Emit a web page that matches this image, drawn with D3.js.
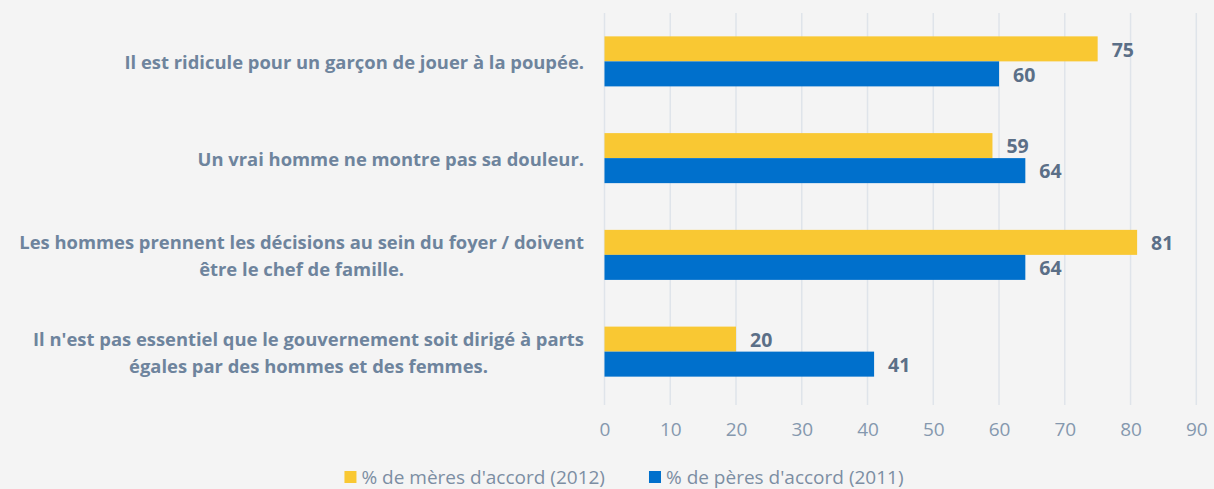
<!DOCTYPE html>
<html>
<head>
<meta charset="utf-8">
<script src="https://cdn.jsdelivr.net/npm/d3@7"></script>
<style>
  body { margin: 0; background: #f4f4f4; }
  svg { display: block; }
</style>
</head>
<body>
<svg id="chart" width="1214" height="489"></svg>
<script>
// données
var categories = [
    ["Il est ridicule pour un garçon de jouer à la poupée."],
    ["Un vrai homme ne montre pas sa douleur."],
    ["Les hommes prennent les décisions au sein du foyer / doivent", "être le chef de famille."],
    ["Il n'est pas essentiel que le gouvernement soit dirigé à parts", "égales par des hommes et des femmes."]
]
var meres = [75, 59, 81, 20]
var peres = [60, 64, 64, 41]
var seriesNames = ["% de mères d'accord (2012)", "% de pères d'accord (2011)"]
var seriesColors = ["#f9c833", "#0070cc"]
var xTicks = [0, 10, 20, 30, 40, 50, 60, 70, 80, 90]

var width = 1214
var height = 489
var margin = { top: 13, right: 18, bottom: 89, left: 604.5 }
var font = "'Open Sans', sans-serif"

var svg = d3.select("#chart")
svg.append("rect").attr("width", width).attr("height", height).attr("fill", "#f4f4f4")

// échelles
var xScale = d3.scaleLinear()
    .domain([0, 90])
    .range([margin.left, 1196.3])

var yScale = d3.scaleBand()
    .domain(d3.range(categories.length))
    .range([margin.top, 400])
    .paddingInner(0.483)
    .paddingOuter(0.2415)

var subScale = d3.scaleBand()
    .domain([0, 1])
    .range([0, yScale.bandwidth()])

// grille verticale
svg.append("g")
    .selectAll("line")
    .data(xTicks)
    .enter()
    .append("line")
    .attr("x1", function (d) { return xScale(d) })
    .attr("x2", function (d) { return xScale(d) })
    .attr("y1", margin.top)
    .attr("y2", 405)
    .attr("stroke", "#dfe4ea")
    .attr("stroke-width", 1.5)

// axe x
var xAxis = d3.axisBottom(xScale).tickValues(xTicks).tickSize(0).tickPadding(0)
var gx = svg.append("g")
    .attr("transform", "translate(0,422)")
    .call(xAxis)
gx.select(".domain").remove()
gx.selectAll("text")
    .attr("font-family", font)
    .attr("font-size", 19)
    .attr("fill", "#8598ae")

// barres
var rows = categories.map(function (c, i) { return { i: i, values: [meres[i], peres[i]] } })
var groups = svg.append("g").selectAll("g")
    .data(rows)
    .enter()
    .append("g")
    .attr("transform", function (d) { return "translate(0," + yScale(d.i) + ")" })

groups.selectAll("rect")
    .data(function (d) { return d.values })
    .enter()
    .append("rect")
    .attr("x", xScale(0))
    .attr("y", function (d, j) { return subScale(j) })
    .attr("width", function (d) { return xScale(d) - xScale(0) })
    .attr("height", subScale.bandwidth())
    .attr("fill", function (d, j) { return seriesColors[j] })

// étiquettes de valeurs
groups.selectAll("text")
    .data(function (d) { return d.values })
    .enter()
    .append("text")
    .attr("x", function (d) { return xScale(d) + 14 })
    .attr("y", function (d, j) { return subScale(j) + subScale.bandwidth() / 2 + 1 })
    .attr("dy", "0.35em")
    .attr("font-family", font)
    .attr("font-weight", "bold")
    .attr("font-size", 19.5)
    .attr("fill", "#5b6f87")
    .text(function (d) { return d })

// libellés des catégories
var labelRight = 584
categories.forEach(function (lines, i) {
    var cy = yScale(i) + yScale.bandwidth() / 2
    var g = svg.append("g")
    var texts = lines.map(function (line, k) {
        return g.append("text")
            .attr("y", cy + 1 + (k - (lines.length - 1) / 2) * 27)
            .attr("dy", "0.35em")
            .attr("text-anchor", "middle")
            .attr("font-family", font)
            .attr("font-weight", "bold")
            .attr("font-size", 18.4)
            .attr("fill", "#6e849d")
            .text(line)
    })
    var maxW = d3.max(texts, function (t) { return t.node().getComputedTextLength() })
    texts.forEach(function (t) { t.attr("x", labelRight - maxW / 2) })
})

// légende
var legend = svg.append("g")
var lx = 0
seriesNames.forEach(function (name, j) {
    var it = legend.append("g")
    it.append("rect")
        .attr("x", 0).attr("y", -6)
        .attr("width", 12).attr("height", 12)
        .attr("fill", seriesColors[j])
    var t = it.append("text")
        .attr("x", 17)
        .attr("dy", "0.35em")
        .attr("font-family", font)
        .attr("font-size", 19)
        .attr("fill", "#7c8ea3")
        .text(name)
    var w = 17 + t.node().getComputedTextLength()
    it.attr("transform", "translate(" + lx + ",0)")
    lx += w + 44
})
var legendW = lx - 44
legend.attr("transform", "translate(" + (624 - legendW / 2) + ",477)")
</script>
</body>
</html>
